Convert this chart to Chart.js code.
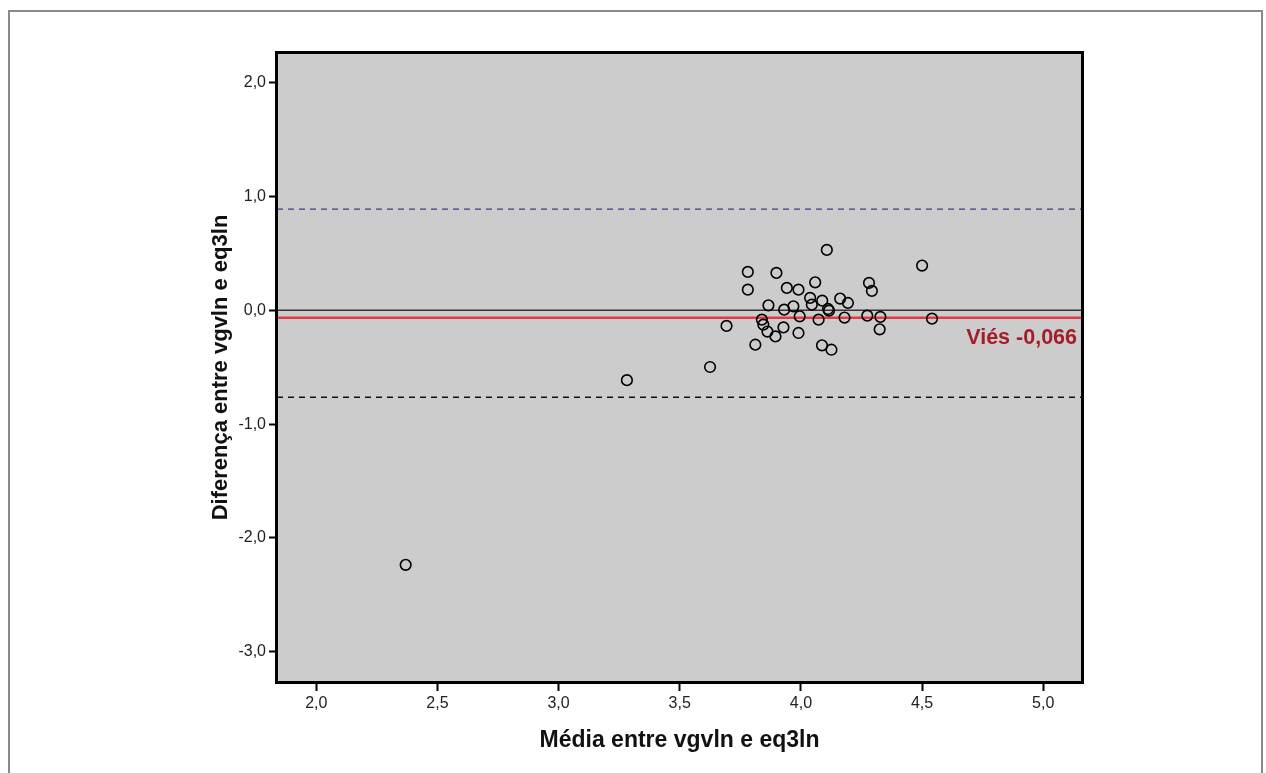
<!DOCTYPE html>
<html>
<head>
<meta charset="utf-8">
<script src="https://cdn.jsdelivr.net/npm/chart.js@4"></script>
<style>
  body { margin: 0; background: #fff; }
  canvas { display: block; }
</style>
</head>
<body>
<canvas id="blandChart" width="1266" height="773"></canvas>
<script>
// Bland-Altman: média x diferença
const mediaVals = [4.107, 3.781, 3.899, 4.500, 4.059, 4.281, 3.781, 3.942, 3.990, 4.293,
    4.038, 4.088, 4.162, 4.194, 3.866, 4.045, 3.969, 3.931, 4.112, 4.116,
    3.995, 4.073, 4.180, 4.274, 4.328, 4.541, 3.839, 3.845, 3.693, 3.862,
    3.928, 3.895, 3.990, 4.325, 3.812, 4.087, 4.126, 3.625, 3.282, 2.369];
const difVals = [0.531, 0.338, 0.329, 0.393, 0.246, 0.241, 0.182, 0.197, 0.182, 0.171,
    0.109, 0.085, 0.103, 0.065, 0.044, 0.050, 0.035, 0.006, 0.012, -0.003,
    -0.053, -0.082, -0.064, -0.047, -0.058, -0.073, -0.082, -0.126, -0.137, -0.187,
    -0.150, -0.229, -0.199, -0.167, -0.302, -0.308, -0.346, -0.498, -0.614, -2.237];

const vies = -0.066;
const limSup = 0.89;
const limInf = -0.765;

const xRange = [1.838, 5.16];
const yRange = [-3.267, 2.262];
const xStep = 0.5;
const yStep = 1;

const FONT = 'Arial, "Liberation Sans", sans-serif';
const fmt = v => v.toFixed(1).replace(".", ",");

function hLine(y, color, width, dash) {
    return {
        type: "line",
        data: [{ x: xRange[0], y: y }, { x: xRange[1], y: y }],
        borderColor: color,
        borderWidth: width,
        borderDash: dash,
        pointRadius: 0,
        order: 2
    };
}

const framePlugin = {
    id: "frame",
    beforeDraw(chart) {
        const c = chart.ctx;
        const a = chart.chartArea;
        c.save();
        c.fillStyle = "#fff";
        c.fillRect(0, 0, chart.width, chart.height);
        c.strokeStyle = "#8a8a8a";
        c.lineWidth = 2;
        c.strokeRect(9, 11, 1253, 800);
        c.fillStyle = "#cccccc";
        c.fillRect(a.left, a.top, a.right - a.left, a.bottom - a.top);
        c.restore();
    },
    afterDraw(chart) {
        const c = chart.ctx;
        const a = chart.chartArea;
        const ys = chart.scales.y;
        c.save();
        c.strokeStyle = "#000";
        c.lineWidth = 3;
        c.strokeRect(a.left - 0.5, a.top - 0.5, a.right - a.left + 1, a.bottom - a.top + 1);
        c.fillStyle = "#a51d2a";
        c.font = "bold 21.5px " + FONT;
        c.textAlign = "right";
        c.textBaseline = "middle";
        c.fillText("Viés " + vies.toFixed(3).replace(".", ","), a.right - 5, ys.getPixelForValue(vies) + 20);
        c.restore();
    }
};

function initializeChart() {
    const ctx = document.getElementById("blandChart");
    new Chart(ctx, {
        type: "scatter",
        data: {
            datasets: [
                {
                    data: mediaVals.map((m, i) => ({ x: m, y: difVals[i] })),
                    pointRadius: 5.3,
                    pointBorderWidth: 1.6,
                    pointBorderColor: "#000",
                    pointBackgroundColor: "rgba(0,0,0,0)",
                    order: 1
                },
                hLine(limSup, "#3c3c7c", 1.2, [6, 5]),
                hLine(0, "#333", 1.5, []),
                hLine(vies, "#e63a40", 2.5, []),
                hLine(limInf, "#111", 1.5, [6, 5])
            ]
        },
        options: {
            responsive: false,
            devicePixelRatio: 1,
            animation: false,
            layout: { padding: { left: 0, top: 53, right: 184, bottom: 0 } },
            plugins: {
                legend: { display: false },
                tooltip: { enabled: false }
            },
            scales: {
                x: {
                    type: "linear",
                    min: xRange[0],
                    max: xRange[1],
                    afterFit: s => { s.height = 91; },
                    ticks: {
                        stepSize: xStep,
                        includeBounds: false,
                        padding: 3,
                        color: "#222",
                        font: { family: FONT, size: 16 },
                        callback: v => fmt(v)
                    },
                    grid: { drawOnChartArea: false, tickLength: 9, tickWidth: 2, tickColor: "#000" },
                    border: { display: false },
                    title: {
                        display: true,
                        text: "Média entre vgvln e eq3ln",
                        color: "#111",
                        font: { family: FONT, size: 23, weight: "bold" },
                        padding: { top: 0, bottom: 19 }
                    }
                },
                y: {
                    type: "linear",
                    min: yRange[0],
                    max: yRange[1],
                    afterFit: s => { s.width = 277; },
                    ticks: {
                        stepSize: yStep,
                        includeBounds: false,
                        padding: 3,
                        color: "#222",
                        font: { family: FONT, size: 16 },
                        callback: v => fmt(v)
                    },
                    grid: { drawOnChartArea: false, tickLength: 8, tickWidth: 2, tickColor: "#000" },
                    border: { display: false },
                    title: {
                        display: true,
                        text: "Diferença entre vgvln e eq3ln",
                        color: "#111",
                        font: { family: FONT, size: 22, weight: "bold" },
                        padding: { top: 208, bottom: 0 }
                    }
                }
            }
        },
        plugins: [framePlugin]
    });
}

document.addEventListener("DOMContentLoaded", initializeChart);
</script>
</body>
</html>
